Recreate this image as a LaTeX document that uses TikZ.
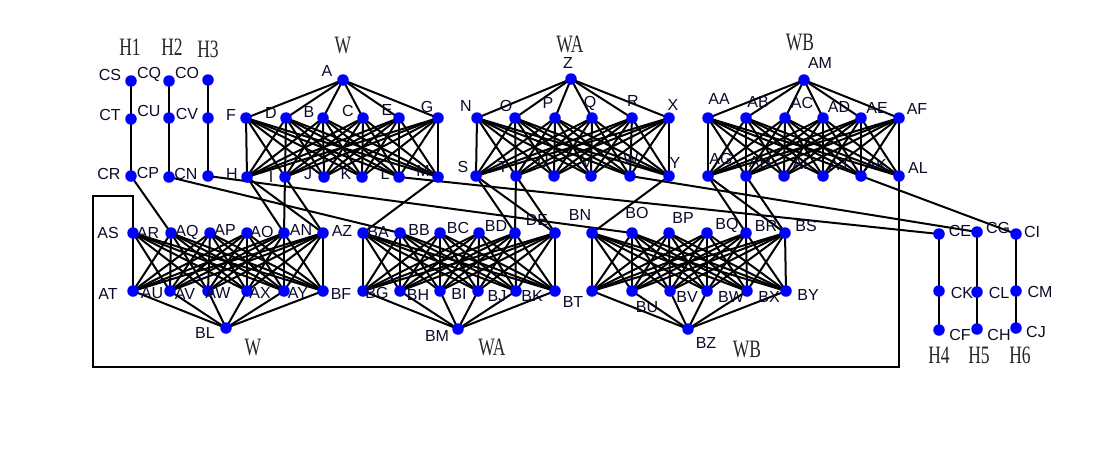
\documentclass[tikz,border=0pt]{standalone}
\usepackage{fontspec}
\setmainfont{Liberation Serif}
\newfontfamily\lblfont{Liberation Sans}
\definecolor{lblc}{RGB}{10,10,40}
\pgfdeclarelayer{edges}
\pgfsetlayers{edges,main}
\begin{document}
\begin{tikzpicture}[x=1pt,y=-1pt,
  dot/.style={circle,fill=blue,inner sep=0pt,minimum size=11.5pt},
  edge/.style={line width=2pt,black},
  lbl/.style={font=\lblfont\fontsize{16}{16}\selectfont,text=lblc,inner sep=0pt},
  ttl/.style={font=\fontsize{25}{25}\selectfont,text=black!85,inner sep=0pt}]
\useasboundingbox (0,0) rectangle (1098,466);

% ---- H columns
\foreach \c/\x/\ya/\yb/\yc in {H1/131/81/119/176, H2/169/81/118/177, H3/208/80/118/176,
    H4/939/234/291/330, H5/977/232/292/329, H6/1016/234/291/328} {
  \node[dot] (\c n1) at (\x,\ya) {};
  \node[dot] (\c n2) at (\x,\yb) {};
  \node[dot] (\c n3) at (\x,\yc) {};
}

% ---- upper graphs
\node[dot] (P1a) at (343,80) {};
\foreach \x [count=\i] in {246,286,323,363,399,438} \node[dot] (P1t\i) at (\x,118) {};
\foreach \x [count=\i] in {247,285,324,362,399,438} \node[dot] (P1b\i) at (\x,177) {};
\node[dot] (P2a) at (571,79) {};
\foreach \x [count=\i] in {477,515,555,592,632,669} \node[dot] (P2t\i) at (\x,118) {};
\foreach \x [count=\i] in {476,516,554,591,630,669} \node[dot] (P2b\i) at (\x,176) {};
\node[dot] (P3a) at (804,80) {};
\foreach \x [count=\i] in {708,746,785,823,861,899} \node[dot] (P3t\i) at (\x,118) {};
\foreach \x [count=\i] in {708,746,784,823,861,899} \node[dot] (P3b\i) at (\x,176) {};

% ---- lower graphs
\foreach \x [count=\i] in {133,171,210,247,284,323} \node[dot] (Q1t\i) at (\x,233) {};
\foreach \x [count=\i] in {133,170,208,247,284,323} \node[dot] (Q1b\i) at (\x,291) {};
\node[dot] (Q1a) at (226,328) {};
\foreach \x [count=\i] in {363,400,440,479,515,555} \node[dot] (Q2t\i) at (\x,233) {};
\foreach \x [count=\i] in {363,400,440,478,516,555} \node[dot] (Q2b\i) at (\x,291) {};
\node[dot] (Q2a) at (458,329) {};
\foreach \x [count=\i] in {592,632,669,707,746,785} \node[dot] (Q3t\i) at (\x,233) {};
\foreach \x [count=\i] in {592,632,670,707,747,786} \node[dot] (Q3b\i) at (\x,291) {};
\node[dot] (Q3a) at (688,329) {};

\coordinate (k1) at (899,367);
\coordinate (k2) at (93,367);
\coordinate (k3) at (93,196);
\coordinate (k4) at (133,196);

\begin{pgfonlayer}{edges}
  \foreach \c in {H1,H2,H3,H4,H5,H6}
    \draw[edge] (\c n1.center) -- (\c n2.center) -- (\c n3.center);
  \foreach \g in {P1,P2,P3}
    \foreach \i in {1,...,6} {
      \draw[edge] (\g a.center) -- (\g t\i.center);
      \foreach \j in {1,...,6} \draw[edge] (\g t\i.center) -- (\g b\j.center);
    }
  \foreach \g in {Q1,Q2,Q3}
    \foreach \i in {1,...,6} {
      \draw[edge] (\g a.center) -- (\g b\i.center);
      \foreach \j in {1,...,6} \draw[edge] (\g t\i.center) -- (\g b\j.center);
    }
  % links between upper and lower graphs
  \foreach \p/\q in {P1/Q1,P2/Q2,P3/Q3}
    \foreach \i in {1,2}
      \foreach \j in {5,6}
        \draw[edge] (\p b\i.center) -- (\q t\j.center);
  \draw[edge] (P1b6.center) -- (Q2t1.center);
  \draw[edge] (P2b6.center) -- (Q3t1.center);
  \draw[edge] (P3b6.center) -- (k1) -- (k2) -- (k3) -- (k4) -- (Q1t1.center);
  \draw[edge] (H1n3.center) -- (Q1t2.center);
  \draw[edge] (H2n3.center) -- (Q2t2.center);
  \draw[edge] (H3n3.center) -- (Q3t2.center);
  \draw[edge] (P1b5.center) -- (H4n1.center);
  \draw[edge] (P2b5.center) -- (H5n1.center);
  \draw[edge] (P3b5.center) -- (H6n1.center);
\end{pgfonlayer}

% ---- titles
\foreach \t/\x/\y [count=\k] in {H1/130/47, H2/172/47, H3/208/49, W/343/46, WA/570/44, WB/800/43,
    W/253/347, WA/492/347, WB/747/349, H4/939/355, H5/979/355, H6/1020/355}
  \node[ttl] (T\k) at (\x,\y) {\scalebox{0.7}[1]{\t}};

% ---- labels
\foreach \t/\x/\y [count=\k] in {
  CS/110/75, CQ/149/74, CO/187/73, CT/110/115, CU/149/111, CV/187/114, CR/109/174, CP/148/173, CN/186/174,
  A/327/71, F/231/115, D/271/113, B/309/112, C/348/111, E/387/110, G/427/107,
  H/232/174, I/271/177, J/308/174, K/346/174, L/385/174, M/423/171,
  Z/568/63, N/466/106, O/506/106, P/548/103, Q/590/103, R/633/101, X/673/105,
  S/463/167, T/503/167, U/543/162, V/587/162, W/631/159, Y/675/163,
  AM/820/63, AA/719/99, AB/758/102, AC/802/103, AD/839/107, AE/877/108, AF/917/109,
  AG/721/159, AH/760/162, AI/800/164, AJ/838/165, AK/876/165, AL/918/168,
  AS/108/233, AR/148/233, AQ/187/232, AP/225/230, AO/262/232, AN/301/230, AZ/342/231,
  AT/108/294, AU/152/293, AV/185/294, AW/218/293, AX/260/293, AY/298/293, BF/341/294, BL/205/333,
  BA/378/232, BB/419/230, BC/458/228, BD/496/226, DE/537/220,
  BG/377/293, BH/418/295, BI/459/294, BJ/497/296, BK/532/296, BM/437/336,
  BN/580/215, BO/637/213, BP/683/218, BQ/727/225, BR/766/226, BS/806/226,
  BT/573/302, BU/647/307, BV/687/297, BW/731/297, BX/769/297, BY/808/295, BZ/706/343,
  CE/960/231, CG/998/228, CI/1032/232, CK/962/293, CL/999/293, CM/1040/292,
  CF/960/335, CH/999/335, CJ/1036/332}
  \node[lbl] (L\k) at (\x,\y) {\t};
\end{tikzpicture}
\end{document}
